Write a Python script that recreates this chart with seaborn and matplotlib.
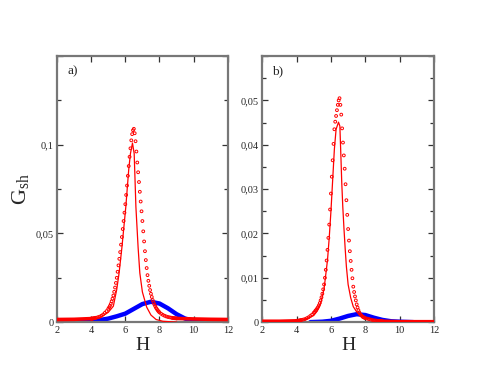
import numpy as np
import pandas as pd
import matplotlib
matplotlib.use("Agg")
import matplotlib.pyplot as plt
from matplotlib.ticker import MultipleLocator, FuncFormatter
import seaborn as sns

# H values of the sampled (circle) points, shared by both panels
dots_h = [4.0, 4.1, 4.2, 4.3, 4.4, 4.5, 4.6, 4.7, 4.8, 4.9,
          5.0, 5.05, 5.1, 5.15, 5.2, 5.25, 5.3, 5.35, 5.4, 5.45,
          5.5, 5.55, 5.6, 5.65, 5.7, 5.75, 5.8, 5.85, 5.9, 5.95,
          6.0, 6.05, 6.1, 6.15, 6.2, 6.25, 6.3, 6.35, 6.4, 6.45,
          6.5, 6.55, 6.6, 6.65, 6.7, 6.75, 6.8, 6.85, 6.9, 6.95,
          7.0, 7.05, 7.1, 7.15, 7.2, 7.25, 7.3, 7.35, 7.4, 7.45,
          7.5, 7.55, 7.6, 7.65, 7.7, 7.75, 7.8, 7.85, 7.9, 7.95,
          8.0, 8.1, 8.2, 8.3, 8.4, 8.5, 8.6, 8.7, 8.8, 8.9, 9.0]

# ---- panel a) ----
a_dots_g = [0.0020, 0.0021, 0.0023, 0.0025, 0.0028, 0.0031, 0.0036, 0.0043, 0.0052, 0.0062,
            0.0075, 0.0083, 0.0092, 0.0103, 0.0117, 0.0132, 0.0150, 0.0171, 0.0195, 0.0221,
            0.0250, 0.0284, 0.0320, 0.0357, 0.0395, 0.0437, 0.0480, 0.0525, 0.0570, 0.0617,
            0.0665, 0.0717, 0.0770, 0.0825, 0.0880, 0.0932, 0.0980, 0.1025, 0.1060, 0.1082,
            0.1090, 0.1065, 0.1020, 0.0962, 0.0900, 0.0845, 0.0790, 0.0735, 0.0680, 0.0625,
            0.0570, 0.0512, 0.0455, 0.0400, 0.0350, 0.0305, 0.0265, 0.0233, 0.0205, 0.0181,
            0.0160, 0.0142, 0.0125, 0.0112, 0.0100, 0.0090, 0.0080, 0.0073, 0.0066, 0.0060,
            0.0055, 0.0047, 0.0041, 0.0036, 0.0032, 0.0029, 0.0027, 0.0025, 0.0023, 0.0022,
            0.0021]
a_base_h = [2.0, 3.0, 4.0, 4.3, None, 8.7, 9.0, 10.0, 11.0, 12.0]
a_base_g = [0.0015, 0.0016, 0.0020, 0.0025, None, 0.0025, 0.0021, 0.0018, 0.0016, 0.0015]
a_line_h = [4.0, 4.5, 5.0, 5.3, 5.5, 5.64, 5.8, 6.03, 6.2, 6.3, 6.42, 6.52, 6.62, 6.75,
            6.85, 7.0, 7.25, 7.5, 7.8, 8.2, 9.0]
a_line_g = [0.0010, 0.0025, 0.0055, 0.0090, 0.0185, 0.0280, 0.0420, 0.0650, 0.0860, 0.0950,
            0.1010, 0.0950, 0.0650, 0.0420, 0.0277, 0.0170, 0.0085, 0.0040, 0.0015, 0.0005,
            0.0]
a_blue_h = [2.0, 3.0, 3.5, 4.0, 4.5, 5.0, 5.5, 6.0, 6.5, 7.0, 7.5, 8.0, 8.5, 9.0, 9.5,
            10.0, 10.5, 11.0, 12.0]
a_blue_g = [0.0, 0.0002, 0.0004, 0.0007, 0.0012, 0.0020, 0.0033, 0.0048, 0.0075, 0.0102,
            0.0115, 0.0105, 0.0078, 0.0045, 0.0020, 0.0008, 0.0003, 0.0001, 0.0]

# ---- panel b) ----
b_dots_g = [0.0003, 0.0003, 0.0004, 0.0005, 0.0006, 0.0007, 0.0009, 0.0011, 0.0014, 0.0017,
            0.0021, 0.0023, 0.0026, 0.0028, 0.0031, 0.0034, 0.0038, 0.0043, 0.0049, 0.0056,
            0.0064, 0.0074, 0.0085, 0.0100, 0.0118, 0.0139, 0.0163, 0.0190, 0.0220, 0.0254,
            0.0290, 0.0328, 0.0365, 0.0402, 0.0435, 0.0452, 0.0465, 0.0478, 0.0490, 0.0500,
            0.0505, 0.0490, 0.0468, 0.0437, 0.0405, 0.0376, 0.0346, 0.0311, 0.0275, 0.0242,
            0.0210, 0.0184, 0.0160, 0.0138, 0.0118, 0.0099, 0.0080, 0.0068, 0.0058, 0.0049,
            0.0040, 0.0033, 0.0027, 0.0022, 0.0018, 0.0016, 0.0014, 0.0012, 0.0011, 0.0010,
            0.0009, 0.0008, 0.0007, 0.0006, 0.0005, 0.0004, 0.0004, 0.0003, 0.0003, 0.0003,
            0.0002]
b_base_h = [2.0, 3.0, 4.0, 4.3, None, 8.7, 9.0, 10.0, 11.0, 12.0]
b_base_g = [0.0002, 0.0002, 0.0003, 0.0005, None, 0.0003, 0.0002, 0.0001, 0.0001, 0.0001]
b_line_h = [4.0, 4.5, 5.0, 5.2, 5.4, 5.6, 5.8, 5.9, 6.0, 6.1, 6.2, 6.3, 6.44, 6.52, 6.58,
            6.63, 6.69, 6.76, 6.83, 6.9, 7.0, 7.15, 7.3, 7.5, 7.7, 8.0, 8.5, 9.0]
b_line_g = [0.0002, 0.0006, 0.0015, 0.0025, 0.0042, 0.0075, 0.0140, 0.0190, 0.0250, 0.0320,
            0.0390, 0.0435, 0.0451, 0.0442, 0.0374, 0.0314, 0.0260, 0.0210, 0.0165, 0.0125,
            0.0085, 0.0055, 0.0035, 0.0023, 0.0016, 0.0010, 0.0005, 0.0003]
b_blue_h = [4.8, 5.5, 6.0, 6.5, 7.0, 7.5, 8.0, 8.5, 9.0, 9.5, 10.0, 10.8]
b_blue_g = [0.0, 0.0001, 0.0003, 0.0008, 0.0014, 0.0018, 0.0016, 0.0010, 0.0005, 0.0002,
            0.0001, 0.0]

sns.set_theme(style="ticks")
plt.rcParams["font.family"] = ["Liberation Serif", "DejaVu Serif"]
plt.rcParams["mathtext.fontset"] = "custom"
plt.rcParams["mathtext.rm"] = "Liberation Serif"

fig = plt.figure(figsize=(4.91, 3.79), dpi=100)
ax_a = fig.add_axes([0.116, 0.150, 0.348, 0.702])
ax_b = fig.add_axes([0.534, 0.150, 0.350, 0.702])

RED = "#ff0000"
BLUE = "#0000ff"


def make_fmt(ymax):
    def comma(v, pos):
        if abs(v) < 1e-12:
            return "0"
        if v > ymax - 1e-9:
            return ""
        return ("%g" % round(v, 4)).replace(".", ",")
    return FuncFormatter(comma)


def panel(ax, dg, bh, bg, lh, lg, uh, ug, ymax, ymaj, label):
    sns.lineplot(x=uh, y=ug, ax=ax, color=BLUE, lw=3.2, sort=False, zorder=2)
    ax.plot(bh, bg, color=RED, lw=2.6, zorder=3, solid_capstyle="butt")
    sns.lineplot(x=lh, y=lg, ax=ax, color=RED, lw=0.9, sort=False, zorder=4)
    sns.scatterplot(x=dots_h, y=dg, ax=ax, marker="o", s=4, facecolor="none",
                    edgecolor=RED, linewidth=0.7, zorder=5)
    ax.set_xlim(2, 12)
    ax.set_ylim(0, ymax)
    ax.xaxis.set_major_locator(MultipleLocator(2))
    ax.yaxis.set_major_locator(MultipleLocator(ymaj))
    ax.yaxis.set_minor_locator(MultipleLocator(ymaj / 2))
    ax.yaxis.set_major_formatter(make_fmt(ymax))
    ax.tick_params(which="both", direction="in", top=True, right=True,
                   labelsize=7.5, color="#333333", width=0.9)
    ax.tick_params(which="major", length=4.5, pad=2.5)
    ax.tick_params(which="minor", length=3)
    for s in ax.spines.values():
        s.set_color("#777777")
        s.set_linewidth(1.6)
    ax.set_xlabel("H", fontsize=14, labelpad=2)
    ax.set_ylabel("")
    ax.text(0.06, 0.965, label, transform=ax.transAxes, fontsize=9.5,
            ha="left", va="top")


panel(ax_a, a_dots_g, a_base_h, a_base_g, a_line_h, a_line_g,
      a_blue_h, a_blue_g, 0.15, 0.05, "a)")
panel(ax_b, b_dots_g, b_base_h, b_base_g, b_line_h, b_line_g,
      b_blue_h, b_blue_g, 0.06, 0.01, "b)")
ax_a.set_ylabel(r"$\mathregular{G_{sh}}$", fontsize=16, labelpad=3)

fig.savefig("out.png", dpi=100, facecolor="white")
